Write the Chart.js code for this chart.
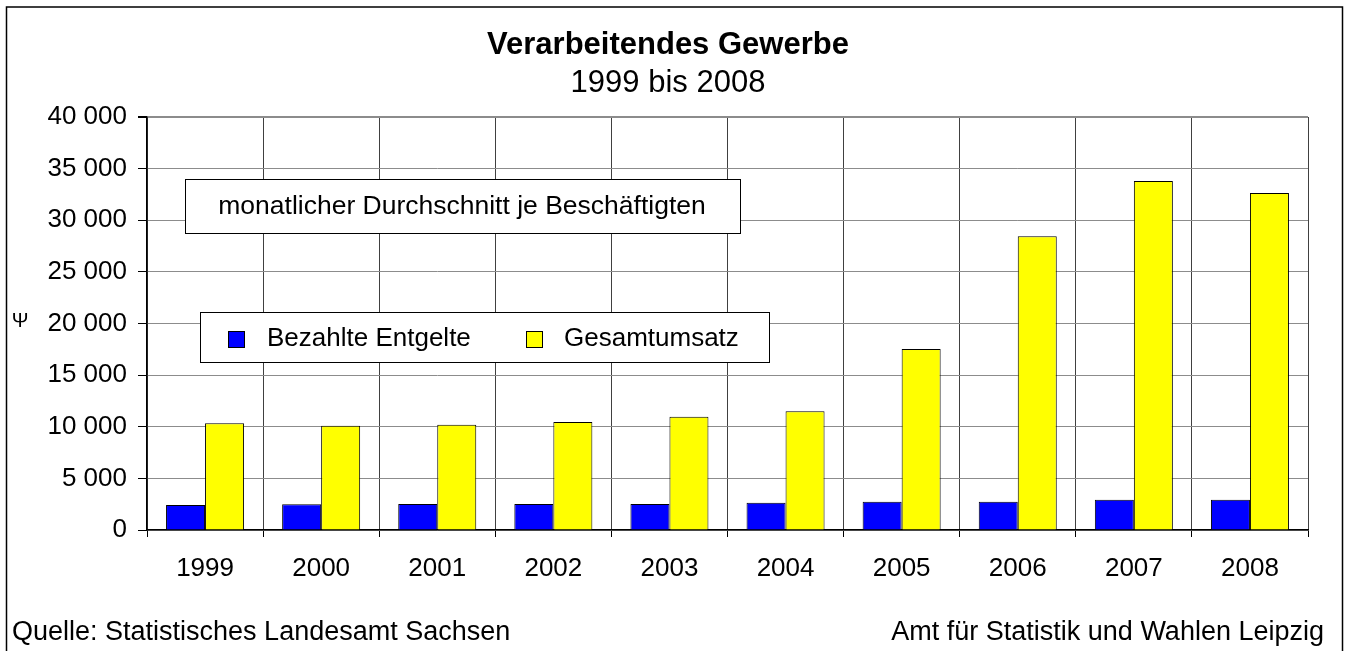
<!DOCTYPE html>
<html>
<head>
<meta charset="utf-8">
<script src="https://cdn.jsdelivr.net/npm/chart.js@4"></script>
<style>
  html, body { margin: 0; padding: 0; background: #fff; }
  #wrap { width: 1348px; height: 651px; }
</style>
</head>
<body>
<div id="wrap"><canvas id="chart" width="1348" height="651"></canvas></div>
<script>
// Daten
const years = ['1999', '2000', '2001', '2002', '2003', '2004', '2005', '2006', '2007', '2008'];
const entgelte = [2430, 2490, 2520, 2520, 2520, 2650, 2730, 2730, 2920, 2920];
const umsatz = [10350, 10100, 10190, 10450, 10970, 11500, 17530, 28440, 33800, 32630];
const yTickLabels = ['0', '5 000', '10 000', '15 000', '20 000', '25 000', '30 000', '35 000', '40 000'];

const FONT = '"Liberation Sans", Arial, sans-serif';

// Titel, Kasten, Legende, Fusszeile
const extras = {
  id: 'extras',
  afterDatasetsDraw(chart) {
    const ctx = chart.ctx;
    ctx.save();

    // Textkasten
    ctx.fillStyle = '#fff';
    ctx.strokeStyle = '#000';
    ctx.lineWidth = 1;
    ctx.fillRect(185, 179, 555, 54);
    ctx.strokeRect(185.5, 179.5, 555, 54);
    ctx.fillStyle = '#000';
    ctx.font = '26.5px ' + FONT;
    ctx.textAlign = 'center';
    ctx.textBaseline = 'middle';
    ctx.fillText('monatlicher Durchschnitt je Beschäftigten', 462, 207);

    // Legende
    ctx.font = '26px ' + FONT;
    ctx.fillStyle = '#fff';
    ctx.fillRect(200, 312, 569, 50);
    ctx.strokeRect(200.5, 312.5, 569, 50);
    const items = [[228, 267], [526, 564]];
    chart.data.datasets.forEach((ds, i) => {
      ctx.fillStyle = ds.backgroundColor;
      ctx.fillRect(items[i][0], 331, 16, 16);
      ctx.strokeStyle = '#000';
      ctx.strokeRect(items[i][0] + 0.5, 331.5, 16, 16);
      ctx.fillStyle = '#000';
      ctx.textAlign = 'left';
      ctx.fillText(ds.label, items[i][1], 339);
    });
    ctx.restore();
  },
  afterDraw(chart) {
    const ctx = chart.ctx;
    ctx.save();
    ctx.fillStyle = '#000';
    ctx.textBaseline = 'middle';
    ctx.textAlign = 'center';
    ctx.font = 'bold 31px ' + FONT;
    ctx.fillText('Verarbeitendes Gewerbe', 668, 45);
    ctx.font = '31px ' + FONT;
    ctx.fillText('1999 bis 2008', 668, 83);

    // Achsenbeschriftung
    ctx.font = '20px ' + FONT;
    ctx.fillText('Ψ', 20, 321);

    // Fusszeile
    ctx.font = '27px ' + FONT;
    ctx.textAlign = 'left';
    ctx.fillText('Quelle: Statistisches Landesamt Sachsen', 12, 633);
    ctx.textAlign = 'right';
    ctx.fillText('Amt für Statistik und Wahlen Leipzig', 1324, 633);

    // Rahmen
    ctx.strokeStyle = '#000';
    ctx.lineWidth = 1.5;
    ctx.strokeRect(6.5, 7, 1336, 660);
    ctx.restore();
  }
};

const ctx = document.getElementById('chart').getContext('2d');
new Chart(ctx, {
  type: 'bar',
  data: {
    labels: years,
    datasets: [
      {
        label: 'Bezahlte Entgelte',
        data: entgelte,
        backgroundColor: '#0000ff',
        borderColor: '#000',
        borderWidth: 1
      },
      {
        label: 'Gesamtumsatz',
        data: umsatz,
        backgroundColor: '#ffff00',
        borderColor: '#000',
        borderWidth: 1
      }
    ]
  },
  options: {
    responsive: false,
    animation: false,
    categoryPercentage: 0.672,
    barPercentage: 1,
    layout: { padding: { top: 117, right: 40, left: 0, bottom: 0 } },
    plugins: {
      legend: { display: false },
      title: { display: false },
      tooltip: { enabled: false }
    },
    scales: {
      x: {
        afterFit(scale) { scale.height = 121; },
        grid: {
          offset: true,
          color: c => c.index === years.length ? '#8c8c8c' : '#404040',
          lineWidth: c => c.index === years.length ? 2 : 1,
          tickLength: 7,
          tickColor: '#000'
        },
        border: { color: '#000', width: 1.5 },
        ticks: {
          color: '#000',
          padding: 16,
          font: { family: FONT, size: 26 }
        }
      },
      y: {
        min: 0,
        max: 40000,
        afterFit(scale) { scale.width = 147; },
        grid: {
          color: '#8c8c8c',
          lineWidth: c => c.index === yTickLabels.length - 1 ? 2 : 1,
          tickLength: 9,
          tickColor: '#000'
        },
        border: { color: '#000', width: 1.5 },
        ticks: {
          stepSize: 5000,
          color: '#000',
          padding: 11,
          font: { family: FONT, size: 26 },
          callback: (v, i) => yTickLabels[i]
        }
      }
    }
  },
  plugins: [extras]
});
</script>
</body>
</html>
